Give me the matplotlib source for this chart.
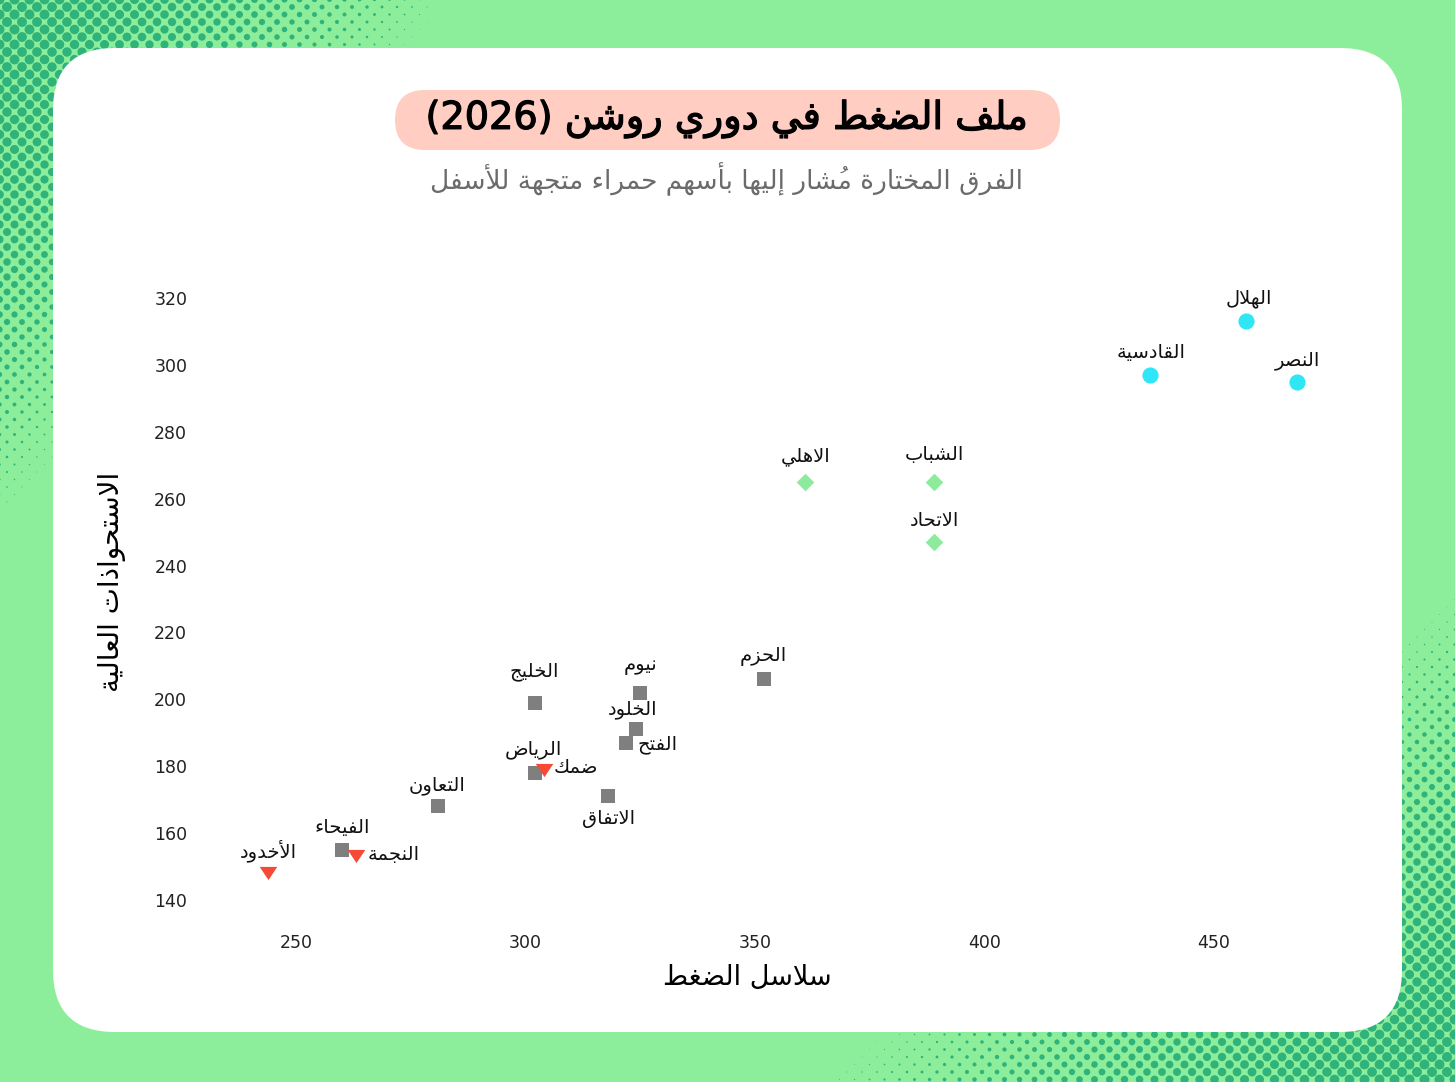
import numpy as np
import matplotlib
matplotlib.use('Agg')
import matplotlib.pyplot as plt
import matplotlib.patheffects as pe
from matplotlib.patches import FancyBboxPatch, Rectangle

# Data #
teams = ['الهلال', 'القادسية', 'النصر', 'الاهلي', 'الشباب', 'الاتحاد',
         'الحزم', 'نيوم', 'الخليج', 'الخلود', 'الفتح', 'الرياض', 'ضمك',
         'الاتفاق', 'التعاون', 'الفيحاء', 'النجمة', 'الأخدود']
press_chains   = [457, 436, 468, 361, 389, 389, 352, 325, 302, 324, 322, 302, 304, 318, 281, 260, 263, 244]
high_turnovers = [313, 297, 295, 265, 265, 247, 206, 202, 199, 191, 187, 178, 179, 171, 168, 155, 153, 148]
groups = ['top', 'top', 'top', 'mid', 'mid', 'mid',
          'rest', 'rest', 'rest', 'rest', 'rest', 'rest', 'down',
          'rest', 'rest', 'rest', 'down', 'down']
x_ticks = [250, 300, 350, 400, 450]
y_ticks = [140, 160, 180, 200, 220, 240, 260, 280, 300, 320]

title    = 'ملف الضغط في دوري روشن (2026)'
subtitle = 'الفرق المختارة مُشار إليها بأسهم حمراء متجهة للأسفل'
x_title  = 'سلاسل الضغط'
y_title  = 'الاستحواذات العالية'

################################################################################
# Minimal arabic shaping (matplotlib has no complex text layout) #
letters = [('\u0621', 0xFE80, 'U'), ('\u0622', 0xFE81, 'R'), ('\u0623', 0xFE83, 'R'),
           ('\u0624', 0xFE85, 'R'), ('\u0625', 0xFE87, 'R'), ('\u0626', 0xFE89, 'D'),
           ('\u0627', 0xFE8D, 'R'), ('\u0628', 0xFE8F, 'D'), ('\u0629', 0xFE93, 'R'),
           ('\u062A', 0xFE95, 'D'), ('\u062B', 0xFE99, 'D'), ('\u062C', 0xFE9D, 'D'),
           ('\u062D', 0xFEA1, 'D'), ('\u062E', 0xFEA5, 'D'), ('\u062F', 0xFEA9, 'R'),
           ('\u0630', 0xFEAB, 'R'), ('\u0631', 0xFEAD, 'R'), ('\u0632', 0xFEAF, 'R'),
           ('\u0633', 0xFEB1, 'D'), ('\u0634', 0xFEB5, 'D'), ('\u0635', 0xFEB9, 'D'),
           ('\u0636', 0xFEBD, 'D'), ('\u0637', 0xFEC1, 'D'), ('\u0638', 0xFEC5, 'D'),
           ('\u0639', 0xFEC9, 'D'), ('\u063A', 0xFECD, 'D'), ('\u0641', 0xFED1, 'D'),
           ('\u0642', 0xFED5, 'D'), ('\u0643', 0xFED9, 'D'), ('\u0644', 0xFEDD, 'D'),
           ('\u0645', 0xFEE1, 'D'), ('\u0646', 0xFEE5, 'D'), ('\u0647', 0xFEE9, 'D'),
           ('\u0648', 0xFEED, 'R'), ('\u0649', 0xFEEF, 'R'), ('\u064A', 0xFEF1, 'D')]
forms = {c: (b, t) for c, b, t in letters}
lam_alef = {'\u0622': 0xFEF5, '\u0623': 0xFEF7, '\u0625': 0xFEF9, '\u0627': 0xFEFB}

def is_mark(c): return '\u064B' <= c <= '\u0652'

def shape_word(word):
    # Clusters of [base, marks] #
    clusters = []
    for c in word:
        if is_mark(c) and clusters: clusters[-1][1] += c
        else: clusters.append([c, ''])
    # Lam-alef ligatures #
    merged = []
    for base, marks in clusters:
        if merged and merged[-1][0] == '\u0644' and base in lam_alef:
            merged[-1] = ['LA' + base, merged[-1][1] + marks]
        else: merged.append([base, marks])
    def kind(b):
        if b.startswith('LA'): return 'R'
        return forms[b][1] if b in forms else 'U'
    out = []
    for i, (base, marks) in enumerate(merged):
        k = kind(base)
        prev = kind(merged[i-1][0]) if i > 0 else 'U'
        nxt  = kind(merged[i+1][0]) if i < len(merged) - 1 else 'U'
        jp = prev == 'D' and k in 'DR'
        jn = k == 'D' and nxt in 'DR'
        if base.startswith('LA'):
            glyph = chr(lam_alef[base[2]] + (1 if jp else 0))
        elif k == 'U':
            glyph = base
        else:
            code = forms[base][0]
            if k == 'D': code += {(1, 1): 3, (1, 0): 1, (0, 1): 2, (0, 0): 0}[(jp, jn)]
            else:        code += 1 if jp else 0
            glyph = chr(code)
        # Mark first: in left to right layout it then lands on the base #
        out.append(marks + glyph)
    return ''.join(reversed(out))

def ar(text):
    words = text.split(' ')
    res = [shape_word(w) if any('\u0600' <= c <= '\u06FF' for c in w) else w for w in words]
    return ' '.join(reversed(res))

################################################################################
plt.rcParams['font.family'] = ['DejaVu Sans']
W, H = 1455, 1082
fig = plt.figure(figsize=(W/100, H/100), dpi=100)

# Background with halftone corners #
bg = fig.add_axes([0, 0, 1, 1])
bg.set_xlim(0, W); bg.set_ylim(H, 0); bg.axis('off')
bg.add_patch(Rectangle((0, 0), W, H, color='#8cee9a', zorder=0))
gx, gy = np.meshgrid(np.arange(-8, W + 16, 15.0), np.arange(-8, H + 8, 7.5))
gx = gx + (np.arange(gy.shape[0])[:, None] % 2) * 7.5
gx, gy = gx.ravel(), gy.ravel()
t1 = gx / 460 + gy / 540
t2 = (W - gx) / 650 + (H - gy) / 500
dia = np.clip(10.0 * (1 - np.minimum(t1, t2) ** 2), 0, None)
keep = dia > 0.6
bg.scatter(gx[keep], gy[keep], s=(dia[keep] * 0.72) ** 2, color='#2fb37a', linewidths=0, zorder=1)
bg.add_patch(FancyBboxPatch((53, 48), 1349, 984, boxstyle='round,pad=0,rounding_size=62',
                            facecolor='white', edgecolor='none', zorder=2))
bg.add_patch(FancyBboxPatch((395, 90), 665, 60, boxstyle='round,pad=0,rounding_size=30',
                            facecolor='#ffcdc1', edgecolor='none', zorder=3))
bg.text(727, 119, ar(title), ha='center', va='center', fontsize=27.5, color='black', zorder=4,
        path_effects=[pe.withStroke(linewidth=0.9, foreground='black')])
bg.text(726, 179, ar(subtitle), ha='center', va='center', fontsize=19, color='#6b6b6b', zorder=4)

# Main axes #
left, right, top, bottom = 215, 1340, 285, 915
ax = fig.add_axes([left/W, 1 - bottom/H, (right - left)/W, (bottom - top)/H])
ax.patch.set_alpha(0)
ax.set_xlim(250 - (296 - left)/4.59, 250 + (right - 296)/4.59)
ax.set_ylim(320 - (bottom - 298)/3.344, 320 + (298 - top)/3.344)
for s in ax.spines.values(): s.set_visible(False)
ax.set_xticks(x_ticks); ax.set_yticks(y_ticks)
ax.tick_params(length=0, labelsize=12.5, colors='#222222')
ax.tick_params(axis='y', pad=20)
ax.tick_params(axis='x', pad=14)

styles = {
    'top':  dict(marker='o', s=135, color='#2fe6f6'),
    'mid':  dict(marker='D', s=80,  color='#8eeb9e'),
    'rest': dict(marker='s', s=100, color='#7f7f7f'),
    'down': dict(marker=[(-1, 0.75), (1, 0.75), (0, -0.75)], s=160, color='#f44a36'),
}
for g, st in styles.items():
    idx = [i for i, gg in enumerate(groups) if gg == g]
    ax.scatter([press_chains[i] for i in idx], [high_turnovers[i] for i in idx],
               linewidths=0, clip_on=False, zorder=3, **st)

# Label offsets in pixels (dx, dy), dy positive is up #
offsets = {'الهلال': (3, 23), 'القادسية': (1, 22), 'النصر': (1, 21), 'الاهلي': (0, 25),
           'الشباب': (0, 27), 'الاتحاد': (0, 22), 'الحزم': (-1, 23), 'نيوم': (0, 27),
           'الخليج': (0, 31), 'الخلود': (-3, 20), 'الفتح': (31, -2), 'الرياض': (-1, 23),
           'ضمك': (32, 2), 'الاتفاق': (0, -22), 'التعاون': (-1, 21), 'الفيحاء': (0, 22),
           'النجمة': (38, 2), 'الأخدود': (0, 22)}
for name, x, y in zip(teams, press_chains, high_turnovers):
    dx, dy = offsets[name]
    ax.annotate(ar(name), (x, y), xytext=(dx, dy), textcoords='offset pixels',
                ha='center', va='center', fontsize=14, color='#111111', zorder=4)

ax.set_xlabel(ar(x_title), fontsize=19.5, va='center', ha='center')
ax.xaxis.set_label_coords((747 - left)/(right - left), (bottom - 978)/(bottom - top))
ax.set_ylabel(ar(y_title), fontsize=20, va='center', ha='center')
ax.yaxis.set_label_coords((112 - left)/(right - left), (bottom - 582)/(bottom - top))

fig.savefig('out.png', dpi=100)
